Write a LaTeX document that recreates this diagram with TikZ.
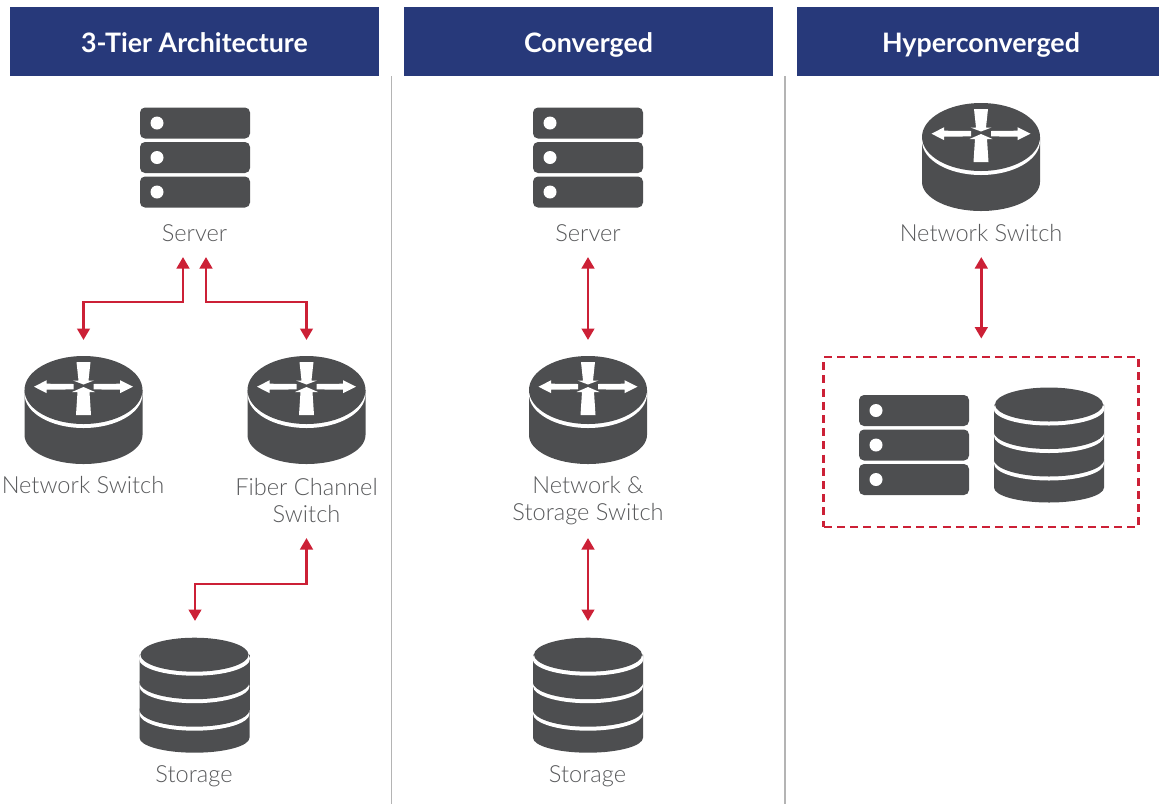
\documentclass[tikz,border=0pt]{standalone}
\usepackage{fontspec}
\setmainfont{Lato}
\newfontfamily\lightf{Lato Light}
\usetikzlibrary{arrows.meta}
\definecolor{hdr}{HTML}{27397A}
\definecolor{ico}{HTML}{4D4E50}
\definecolor{redl}{HTML}{CC2036}
\definecolor{sep}{HTML}{B4B4B4}
\definecolor{lbl}{HTML}{58595B}
\tikzset{
 x=1pt,y=-1pt,
 header/.style={fill=hdr,text=white,inner sep=0pt,font=\bfseries\fontsize{26.8}{30}\selectfont,anchor=center,text height=27.5pt,text depth=5.5pt,align=center},
 label/.style={text=lbl,inner sep=0pt,align=center,font=\lightf\fontsize{23.6}{27}\selectfont},
 hit/.style={inner sep=0pt,outer sep=0pt,minimum width=100pt,rectangle},
 link/.style={draw=redl,line width=2.8pt,{Triangle[width=12.5pt,length=11.5pt]}-{Triangle[width=12.5pt,length=11.5pt]}},
 serverico/.pic={
  \foreach \t in {0,34.5,69}{
   \fill[ico,rounded corners=5pt] (-55,\t) rectangle (55,\t+31);
   \fill[white] (-38,\t+15.5) circle (6.5pt);
  }
 },
 storageico/.pic={
  \fill[ico] (-55,17) -- (-55,100) arc[start angle=180,end angle=360,x radius=55pt,y radius=15pt] -- (55,17) -- cycle;
  \foreach \c in {72,44.5}{
   \fill[white] (0,\c+4) ellipse[x radius=55pt,y radius=17pt];
   \fill[ico] (-55,\c) rectangle (55,\c-27.5);
   \fill[ico] (0,\c) ellipse[x radius=55pt,y radius=17pt];
  }
  \fill[white] (0,21) ellipse[x radius=55.5pt,y radius=17pt];
  \fill[ico] (0,17) ellipse[x radius=54pt,y radius=17pt];
 },
 switchico/.pic={
  \fill[ico] (-59,34) -- (-59,79) arc[start angle=180,end angle=360,x radius=59pt,y radius=29pt] -- (59,34) -- cycle;
  \fill[white] (0,38) ellipse[x radius=59pt,y radius=34pt];
  \fill[ico] (0,34) ellipse[x radius=59pt,y radius=34pt];
  \fill[white] (-49.5,30.7) -- (-36.8,24.2) -- (-36.8,27.7) -- (-10,28) -- (-10,33.4) -- (-36.8,33.7) -- (-36.8,37.2) -- cycle;
  \fill[white] (49.5,30.7) -- (36.5,24.2) -- (36.5,27.7) -- (10,28) -- (10,33.4) -- (36.5,33.7) -- (36.5,37.2) -- cycle;
  \fill[white] (-7,6) -- (7,6) -- (5,24.5) -- (10.5,24.5) -- (0,28.5) -- (-10.5,24.5) -- (-5,24.5) -- cycle;
  \fill[white] (-7.5,59) -- (7.5,59) -- (6,36) -- (11.5,36) -- (0,31) -- (-11.5,36) -- (-6,36) -- cycle;
 }
}
\begin{document}
\begin{tikzpicture}
\useasboundingbox (0,0) rectangle (1159,804);
% headers
\node[header,minimum width=369pt,minimum height=69pt] (h1) at (194.5,41.5) {3-Tier Architecture};
\node[header,minimum width=369pt,minimum height=69pt] (h2) at (588.5,41.5) {Converged};
\fill[hdr] (797,7) rectangle (1159,76);
\node[header,fill=none] (h3) at (981,41.5) {Hyperconverged};
% separators
\draw[sep,line width=1.6pt] (391.5,76) -- (391.5,804);
\draw[sep,line width=1.6pt] (785,76) -- (785,804);
% icons
\pic at (195,107.5) {serverico};
\pic at (588,107.5) {serverico};
\pic at (914,395) {serverico};
\pic at (83.5,356) {switchico};
\pic at (306.5,356) {switchico};
\pic at (588,356) {switchico};
\pic at (981,103) {switchico};
\pic at (194.5,637.7) {storageico};
\pic at (588,637.7) {storageico};
\pic at (1049,387.5) {storageico};
% labels
\node[label] (l1) at (194.5,233.5) {Server};
\node[label] (l2) at (83,485) {Network Switch};
\node[label] (l3) at (306.5,500.5) {Fiber Channel\\Switch};
\node[label] (l4) at (194,776) {Storage};
\node[label] (l5) at (588,233.5) {Server};
\node[label] (l6) at (588,500.5) {Network \&\\Storage Switch};
\node[label] (l7) at (587.5,776) {Storage};
\node[label] (l8) at (981,233.5) {Network Switch};
% connector anchor blocks (invisible)
\node[hit,minimum height=150pt] (srvA) at (194.5,182) {};
\node[hit,minimum height=198pt] (fcA) at (306.5,439) {};
\node[hit,minimum height=100pt] (nwA) at (83.5,390) {};
\node[hit,minimum height=100pt] (stA) at (195,671) {};
\node[hit,minimum height=150pt] (srvB) at (588,182) {};
\node[hit,minimum height=198pt] (nsB) at (588,439) {};
\node[hit,minimum height=100pt] (stB) at (588,671) {};
\node[hit,minimum height=150pt] (nsC) at (981.3,182) {};
\node[draw=redl,line width=2.8pt,dash pattern=on 8pt off 5.2pt,inner sep=0pt,minimum width=315pt,minimum height=170pt] (hci) at (981.3,442) {};
% connectors
\draw[link] ([xshift=-11.5pt]srvA.south) -- ++(0,45) -| (nwA.north);
\draw[link] ([xshift=11.5pt]srvA.south) -- ++(0,45) -| (fcA.north);
\draw[link] (fcA.south) -- ++(0,46) -| (stA.north);
\draw[link] (srvB.south) -- (nsB.north);
\draw[link] (nsB.south) -- (stB.north);
\draw[link] (nsC.south) -- ([yshift=17pt]hci.north);
\end{tikzpicture}
\end{document}
